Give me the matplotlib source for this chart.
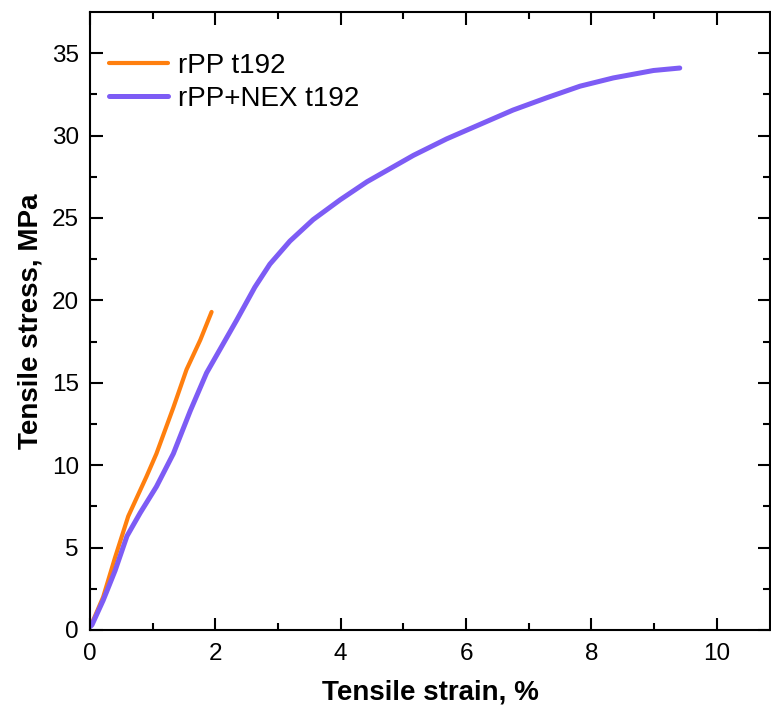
import numpy as np
import matplotlib.pyplot as plt

plt.rcParams["font.family"] = ["Liberation Sans", "DejaVu Sans"]

# strain (%) / stress (MPa)
strain_rpp = [0, 0.03, 0.21, 0.40, 0.61, 0.90, 1.06, 1.33, 1.54, 1.76, 1.94]
stress_rpp = [0.2, 0.4, 2.0, 4.4, 6.9, 9.3, 10.7, 13.5, 15.8, 17.6, 19.3]

strain_nex = [0, 0.03, 0.21, 0.40, 0.59, 0.80, 1.06, 1.33, 1.60, 1.86, 2.07,
              2.34, 2.63, 2.87, 3.19, 3.56, 3.99, 4.42, 5.16, 5.69, 6.75,
              7.29, 7.82, 8.35, 8.99, 9.41]
stress_nex = [0.2, 0.3, 1.8, 3.6, 5.7, 7.1, 8.7, 10.7, 13.3, 15.6, 17.0,
              18.8, 20.8, 22.2, 23.6, 24.9, 26.1, 27.2, 28.8, 29.8, 31.55,
              32.3, 33.0, 33.5, 33.95, 34.1]

labels = ["rPP t192", "rPP+NEX t192"]
colors = ["#ff7f0e", "#7d5cf5"]

fig = plt.figure(figsize=(7.71, 7.08), dpi=100)
ax = fig.add_axes([90 / 771, 78 / 708, 680 / 771, 618 / 708])

ax.plot(strain_rpp, stress_rpp, color=colors[0], lw=3.0, label=labels[0],
        solid_capstyle="round", solid_joinstyle="round")
ax.plot(strain_nex, stress_nex, color=colors[1], lw=3.6, label=labels[1],
        solid_capstyle="round", solid_joinstyle="round")

ax.set_xlim(0, 10.85)
ax.set_ylim(0, 37.5)
ax.set_xticks([0, 2, 4, 6, 8, 10])
ax.set_xticks([1, 3, 5, 7, 9], minor=True)
ax.set_yticks(np.arange(0, 36, 5))
ax.set_yticks(np.arange(2.5, 37.5, 5), minor=True)
ax.tick_params(which="both", direction="in", top=True, right=True,
               labelsize=17.5, width=1.5)
ax.tick_params(which="major", length=9)
ax.tick_params(which="minor", length=5)
ax.tick_params(axis="x", pad=9)
ax.tick_params(axis="y", pad=8)
for s in ax.spines.values():
    s.set_linewidth(1.5)

ax.set_xlabel("Tensile strain, %", fontsize=20, fontweight="bold", labelpad=11)
ax.set_ylabel("Tensile stress, MPa", fontsize=20, fontweight="bold", labelpad=6)

ax.legend(loc="upper left", frameon=False, fontsize=20, handlelength=2.1,
          handletextpad=0.35, labelspacing=0.25, borderaxespad=0.3,
          bbox_to_anchor=(0.0, 0.965))

fig.savefig("out.png", dpi=100)
